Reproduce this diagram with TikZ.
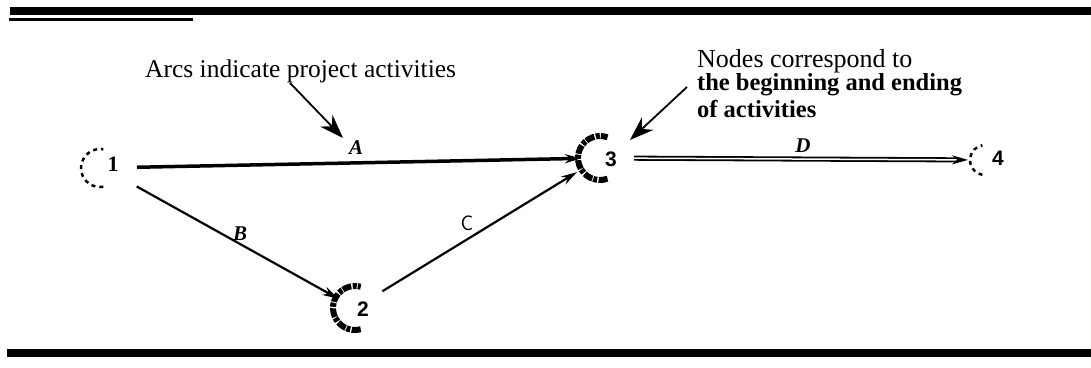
\documentclass[tikz,border=0pt]{standalone}
\usepackage{fontspec}
\setmainfont{Liberation Serif}
\newfontfamily\digfont{Liberation Sans}
\usetikzlibrary{arrows.meta}
\begin{document}
\begin{tikzpicture}[x=1pt,y=-1pt,
  bar/.style={fill=black,draw=none},
  actarc/.style={line width=2.2pt,-{Stealth[length=16pt,width=9pt]}},
  callout/.style={line width=1.8pt,-{Stealth[length=24pt,width=17pt]}},
  ring/.style={line width=6pt,dash pattern=on 9pt off 1.5pt on 4pt off 1pt},
  faintring/.style={line width=2.5pt,dash pattern=on 4pt off 4pt},
  digit/.style={font=\digfont\bfseries\fontsize{21}{21}\selectfont,inner sep=0pt},
  lab/.style={font=\bfseries\itshape\fontsize{21}{21}\selectfont,inner sep=0pt},
  note/.style={inner sep=0pt,anchor=base west}]
\useasboundingbox (0,0) rectangle (1091,367);
% rules
\fill[bar] (10,7) rectangle (1091,15);
\fill[bar] (9,18) rectangle (193,21);
\fill[bar] (7,349) rectangle (1091,357);
% event centres
\coordinate (n1) at (100,168);
\coordinate (n2) at (355,308);
\coordinate (n3) at (600,158);
\coordinate (n4) at (985,160);
% event rings (partial, ragged)
\draw[faintring] (n1) ++(80:19) arc[start angle=80,end angle=280,radius=19];
\draw[ring] (n2) ++(75:22) arc[start angle=75,end angle=285,radius=22];
\draw[ring] (n3) ++(70:22) arc[start angle=70,end angle=290,radius=22];
\draw[faintring] (n4) ++(100:15) arc[start angle=100,end angle=260,radius=15];
\node[digit,font=\bfseries\fontsize{22}{22}\selectfont] (d1) at (113,164) {1};
\node[digit] (d2) at (363,309) {2};
\node[digit] (d3) at (611,159) {3};
\node[digit] (d4) at (998,158) {4};
% activities
\draw[actarc,line width=3.5pt,shorten <=37pt,shorten >=19pt] (n1) -- (n3);
\draw[actarc,shorten <=42pt,shorten >=19pt] ([yshift=2pt]n1) -- (n2);
\draw[actarc,shorten <=32pt,shorten >=27pt] (n2) -- (n3);
\draw[actarc,double,double distance=1.5pt,line width=1.8pt,shorten <=34pt,shorten >=17pt] (n3) -- (n4);
% labels
\node[lab] (la) at (356,148) {A};
\node[lab] (lb) at (240,234) {B};
\node[inner sep=0pt,font=\sffamily\fontsize{21}{21}\selectfont] (lc) at (467,223) {C};
\node[lab] (ld) at (803,146) {D};
% notes
\node[note,font=\fontsize{25.5}{25.5}\selectfont] (t1) at (145,77) {Arcs indicate project activities};
\node[note,font=\fontsize{26}{26}\selectfont] (t2) at (697,67) {Nodes correspond to};
\node[note,font=\bfseries\fontsize{24.5}{24.5}\selectfont] (t3) at (697,90) {the beginning and ending};
\node[note,font=\bfseries\fontsize{24.5}{24.5}\selectfont] (t4) at (697,117) {of activities};
\coordinate (c1s) at (290,83);
\coordinate (c1e) at (343,138);
\coordinate (c2s) at (687,87);
\coordinate (c2e) at (630,140);
\draw[callout] (c1s) -- (c1e);
\draw[callout] (c2s) -- (c2e);
\end{tikzpicture}
\end{document}
